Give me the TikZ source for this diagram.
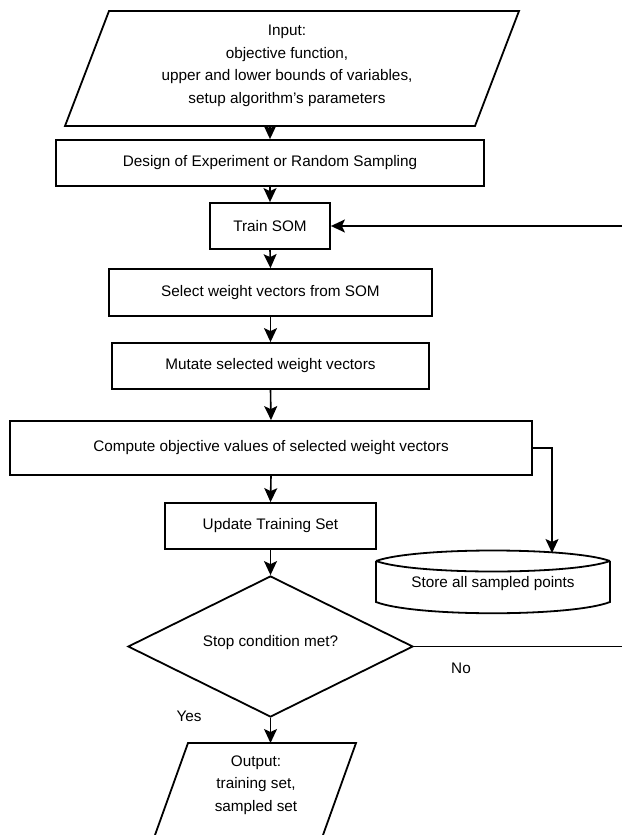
\documentclass[tikz,border=0pt]{standalone}
\usepackage{fontspec}
\setmainfont{Liberation Sans}
\usetikzlibrary{arrows.meta,shapes.geometric}
\begin{document}
\begin{tikzpicture}[x=1pt,y=-1pt,
  box/.style={draw,line width=1.8pt,rectangle,inner sep=0pt,align=center},
  lbl/.style={inner sep=0pt,align=center},
  shp/.style={line width=1.8pt,line join=miter},
  conn/.style={line width=1.6pt,-{Stealth[length=14pt,width=13pt,inset=3pt]}},
  every node/.style={font=\fontsize{15.3}{22.5}\selectfont}]
\useasboundingbox (0,0) rectangle (621,835);
% input
\draw[shp] (109,11) -- (519,11) -- (475,126) -- (65,126) -- cycle;
\node[lbl] (in) at (287,66) {Input:\\objective function,\\upper and lower bounds of variables,\\setup algorithm's parameters};
\coordinate (inb) at (270,126);
\node[box,minimum width=428pt,minimum height=46pt] (doe) at (270,163) {Design of Experiment or Random Sampling};
\node[box,minimum width=120pt,minimum height=46pt] (train) at (270,226) {Train SOM};
\node[box,minimum width=323pt,minimum height=47pt] (sel) at (270.5,292.5) {Select weight vectors from SOM};
\node[box,minimum width=317pt,minimum height=46pt] (mut) at (270.5,366) {Mutate selected weight vectors};
\node[box,minimum width=522pt,minimum height=54pt] (comp) at (271,448) {Compute objective values of selected weight vectors};
\node[box,minimum width=211pt,minimum height=46pt] (upd) at (270.5,526) {Update Training Set};
\node[draw,shape=diamond,line width=1.8pt,inner sep=0pt,minimum width=285pt,minimum height=141pt] (dia) at (270.5,646.5) {};
\node[lbl] (diat) at (270.5,643) {Stop condition met?};
% store
\draw[shp] (376,561) .. controls (415,547) and (571,547) .. (610,561);
\draw[shp] (376,561) .. controls (415,575) and (571,575) .. (610,561);
\draw[shp] (376,561) -- (376,602) .. controls (415,617) and (571,617) .. (610,602) -- (610,561);
\node[lbl] (store) at (493,584) {Store all sampled points};
\coordinate (storetop) at (552,553);
% output
\draw[shp] (155,835) -- (188,743) -- (356,743) -- (323,835);
\draw[shp] (155,835) -- (154,838);
\draw[shp] (323,835) -- (322,838);
\node[lbl] (out) at (256,785) {Output:\\training set,\\sampled set};
\coordinate (outt) at (270.5,743);
% labels
\node[lbl] (no) at (461,668) {No};
\node[lbl] (yes) at (189,716) {Yes};
% connectors
\draw[conn] (inb) -- (doe.north);
\draw[conn] (doe.south) -- (train.north);
\draw[conn] (train.south) -- (sel.north);
\draw[conn] (sel.south) -- (mut.north);
\draw[conn] (mut.south) -- (comp.north);
\draw[conn] (comp.south) -- (upd.north);
\draw[conn] (upd.south) -- (dia.north);
\draw[conn] (dia.south) -- (outt);
\coordinate (cr) at (552,448);
\draw[conn] (comp.east) -- (cr) -- (storetop);
\coordinate (fb) at (640,646.5);
\draw[conn] (dia.east) -- (fb) |- (train.east);
\end{tikzpicture}
\end{document}
